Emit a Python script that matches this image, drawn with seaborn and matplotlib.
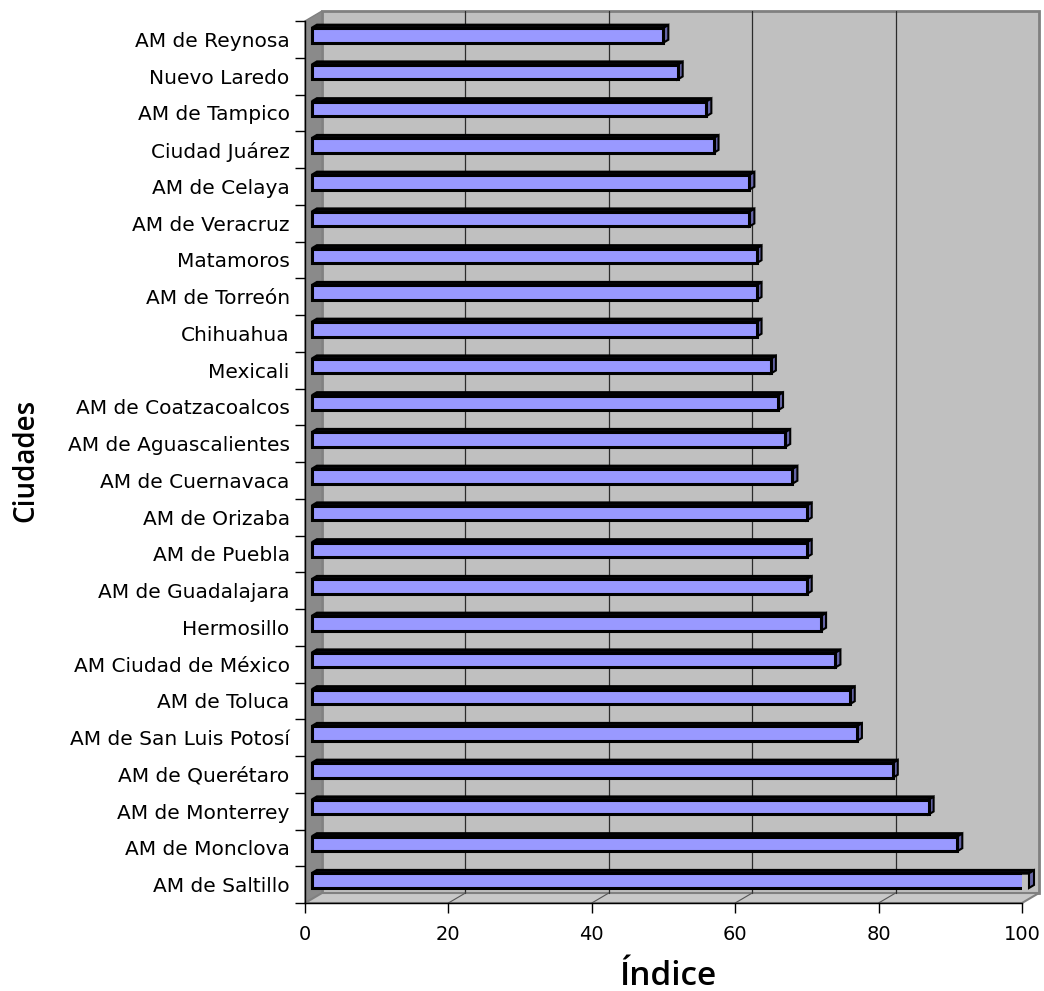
import numpy as np
import matplotlib

matplotlib.use("Agg")
import matplotlib.pyplot as plt
from matplotlib.patches import Polygon, Rectangle
import seaborn as sns


CITIES = [
    "AM de Reynosa",
    "Nuevo Laredo",
    "AM de Tampico",
    "Ciudad Juárez",
    "AM de Celaya",
    "AM de Veracruz",
    "Matamoros",
    "AM de Torreón",
    "Chihuahua",
    "Mexicali",
    "AM de Coatzacoalcos",
    "AM de Aguascalientes",
    "AM de Cuernavaca",
    "AM de Orizaba",
    "AM de Puebla",
    "AM de Guadalajara",
    "Hermosillo",
    "AM Ciudad de México",
    "AM de Toluca",
    "AM de San Luis Potosí",
    "AM de Querétaro",
    "AM de Monterrey",
    "AM de Monclova",
    "AM de Saltillo",
]
INDEX = [49, 51, 55, 56, 61, 61, 62, 62, 62, 64, 65, 66, 67, 69, 69, 69,
         71, 73, 75, 76, 81, 86, 90, 100]
X_TICKS = [0, 20, 40, 60, 80, 100]
GRID_VALUES = [20, 40, 60, 80]

COLORS = {
    "bar": "#9999ff",
    "bar_top": "#1c1c30",
    "bar_side": "#6666a8",
    "wall": "#c0c0c0",
    "side_wall": "#8a8a8a",
    "floor": "#c8c8c8",
    "wall_edge": "#808080",
    "grid": "#2b2b2b",
}

# 3D look, in pixels
WALL_DX, WALL_DY = 17, 10
BAR_SHIFT_X, BAR_SHIFT_Y = 7, 4
BAR_DX, BAR_DY = 5, 3

sns.set_style("white")
plt.rcParams["font.family"] = ["DejaVu Sans"]
plt.rcParams["text.color"] = "black"
plt.rcParams["axes.labelcolor"] = "black"
plt.rcParams["xtick.color"] = "black"
plt.rcParams["ytick.color"] = "black"

W, H = 1044, 991
fig = plt.figure(figsize=(W / 100, H / 100), dpi=100)
ax_box = [305, 88, 717, 882]  # left, bottom, width, height in px
ax = fig.add_axes([ax_box[0] / W, ax_box[1] / H, ax_box[2] / W, ax_box[3] / H])

sns.barplot(
    x=INDEX,
    y=CITIES,
    orient="h",
    color=COLORS["bar"],
    saturation=1,
    edgecolor="black",
    linewidth=2.2,
    width=0.4,
    ax=ax,
)

n = len(CITIES)
ax.set_xlim(0, 100)
ax.set_ylim(n - 0.5, -0.5)
ux = 100 / ax_box[2]
uy = n / ax_box[3]
top, bottom = -0.5, n - 0.5

# walls
ax.add_patch(Rectangle((WALL_DX * ux, top - WALL_DY * uy), 100, n,
                       facecolor=COLORS["wall"], edgecolor=COLORS["wall_edge"],
                       linewidth=2, zorder=0, clip_on=False))
ax.add_patch(Polygon([(0, top), (0, bottom),
                      (WALL_DX * ux, bottom - WALL_DY * uy),
                      (WALL_DX * ux, top - WALL_DY * uy)],
                     closed=True, facecolor=COLORS["side_wall"],
                     edgecolor=COLORS["wall_edge"], linewidth=1,
                     zorder=0.2, clip_on=False))
ax.add_patch(Polygon([(0, bottom), (100, bottom),
                      (100 + WALL_DX * ux, bottom - WALL_DY * uy),
                      (WALL_DX * ux, bottom - WALL_DY * uy)],
                     closed=True, facecolor=COLORS["floor"],
                     edgecolor=COLORS["wall_edge"], linewidth=1.5,
                     zorder=0.2, clip_on=False))

for v in GRID_VALUES:
    ax.plot([v + WALL_DX * ux] * 2, [top - WALL_DY * uy, bottom - WALL_DY * uy],
            color=COLORS["grid"], linewidth=0.9, zorder=0.5, clip_on=False)
    ax.plot([v, v + WALL_DX * ux], [bottom, bottom - WALL_DY * uy],
            color="#555555", linewidth=0.8, zorder=0.5, clip_on=False)

# bars: shift into the depth and add top / side faces
for patch in ax.patches[:]:
    if patch.get_facecolor()[:3] != matplotlib.colors.to_rgb(COLORS["bar"]):
        continue
    patch.set_x(patch.get_x() + BAR_SHIFT_X * ux)
    patch.set_y(patch.get_y() - BAR_SHIFT_Y * uy)
    patch.set_zorder(3)
    x0 = patch.get_x()
    x1 = x0 + patch.get_width()
    y0 = patch.get_y()
    y1 = y0 + patch.get_height()
    ddx, ddy = BAR_DX * ux, BAR_DY * uy
    ax.add_patch(Polygon([(x0, y0), (x1, y0), (x1 + ddx, y0 - ddy), (x0 + ddx, y0 - ddy)],
                         closed=True, facecolor=COLORS["bar_top"], edgecolor="black",
                         linewidth=2, zorder=2.9, clip_on=False))
    ax.add_patch(Polygon([(x1, y0), (x1, y1), (x1 + ddx, y1 - ddy), (x1 + ddx, y0 - ddy)],
                         closed=True, facecolor=COLORS["bar_side"], edgecolor="black",
                         linewidth=1.5, zorder=2.9, clip_on=False))

for side in ["top", "right"]:
    ax.spines[side].set_visible(False)
for side in ["left", "bottom"]:
    ax.spines[side].set_color("black")
    ax.spines[side].set_linewidth(1)
    ax.spines[side].set_zorder(4)

ax.set_xticks(X_TICKS)
ax.set_xticklabels([str(t) for t in X_TICKS])
ax.set_yticks(np.arange(n + 1) - 0.5, minor=True)
ax.tick_params(axis="y", which="major", length=0, pad=11, labelsize=14.5,
               labelcolor="black")
ax.tick_params(axis="y", which="minor", length=7, width=1, color="black", left=True)
ax.tick_params(axis="x", which="major", length=7, width=1, color="black",
               bottom=True, pad=9, labelsize=14, labelcolor="black")

ax.set_xlabel("Índice", fontsize=24, fontfamily="Open Sans", fontweight="semibold",
              color="black")
ax.set_ylabel("Ciudades", fontsize=20, fontfamily="Open Sans", fontweight="semibold",
              color="black")
ax.xaxis.set_label_coords((668 - ax_box[0]) / ax_box[2], (903 - 960) / ax_box[3])
ax.yaxis.set_label_coords((40 - ax_box[0]) / ax_box[2], (903 - 460) / ax_box[3])
ax.grid(False)
ax.set_facecolor("none")

fig.savefig("out.png", dpi=100)
plt.close(fig)
